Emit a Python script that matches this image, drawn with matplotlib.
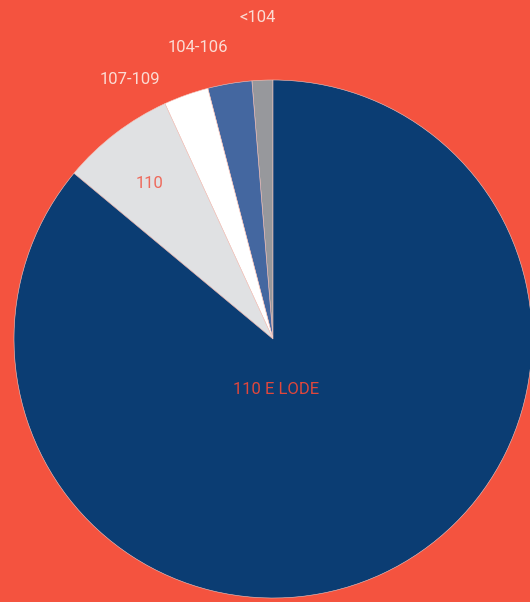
import matplotlib
matplotlib.use("Agg")
import matplotlib.pyplot as plt

# voti di laurea
labels = ["<104", "104-106", "107-109", "110", "110 E LODE"]
values = [1.3, 2.75, 2.8, 7.1, 86.05]
colors = ["#97989c", "#4467a0", "#ffffff", "#e0e1e3", "#0b3d73"]

# label placement (pixel coords in the figure)
label_pos = [(258, 18), (198, 47), (130, 79), (150, 183), (276, 390)]
label_col = ["#fbdcd4", "#fbdcd4", "#fbdcd4", "#ee6a5c", "#e0473c"]

W, H = 530, 602
bg = "#f4533f"

fig = plt.figure(figsize=(W / 100, H / 100), dpi=100, facecolor=bg)
ax = fig.add_axes([0, 0, 1, 1])
ax.set_facecolor(bg)

ax.pie(values, colors=colors, startangle=90, counterclock=True,
       center=(273, H - 339), radius=259,
       wedgeprops=dict(linewidth=0.4, edgecolor="#f3c8c0"))

for lab, (x, y), c in zip(labels, label_pos, label_col):
    ax.text(x, H - y, lab, ha="center", va="center", color=c,
            fontsize=12, family="Roboto")

ax.set_xlim(0, W)
ax.set_ylim(0, H)
ax.set_aspect("equal")
ax.axis("off")

fig.savefig("out.png", dpi=100, facecolor=bg)
